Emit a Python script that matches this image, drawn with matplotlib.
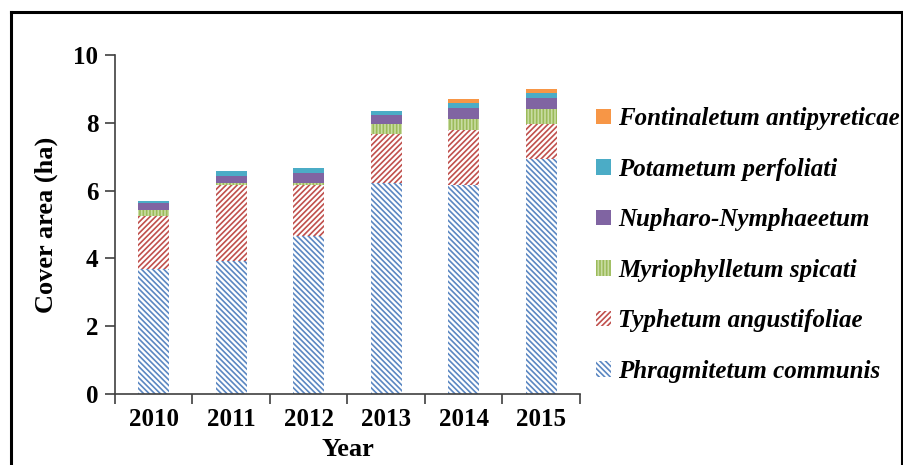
import matplotlib
matplotlib.use("Agg")
import matplotlib.pyplot as plt
import numpy as np
from matplotlib.lines import Line2D

years = ["2010", "2011", "2012", "2013", "2014", "2015"]
series_names = ["Phragmitetum communis", "Typhetum angustifoliae", "Myriophylletum spicati",
                "Nupharo-Nymphaeetum", "Potametum perfoliati", "Fontinaletum antipyreticae"]
phragmitetum = [3.68, 3.93, 4.66, 6.21, 6.17, 6.92]
typhetum = [1.57, 2.23, 1.50, 1.45, 1.62, 1.04]
myriophylletum = [0.18, 0.07, 0.07, 0.30, 0.31, 0.44]
nupharo = [0.21, 0.20, 0.28, 0.27, 0.33, 0.32]
potametum = [0.05, 0.16, 0.16, 0.13, 0.16, 0.15]
fontinaletum = [0.00, 0.00, 0.00, 0.00, 0.12, 0.14]

plt.rcParams['font.family'] = ['Liberation Serif', 'DejaVu Serif']
plt.rcParams['hatch.linewidth'] = 1.2

fig = plt.figure(figsize=(9.04, 4.65), dpi=100)
ax = fig.add_axes([115/904, 1-394/465, 465/904, 339/465])

styles = [
    dict(facecolor='white', edgecolor='#5B87C2', hatch='\\' * 6),
    dict(facecolor='white', edgecolor='#C0504D', hatch='/' * 6),
    dict(facecolor='#9BBB59', edgecolor='#C9DCA3', hatch='|' * 5),
    dict(facecolor='#8064A2', edgecolor='#8064A2', hatch=None),
    dict(facecolor='#4BACC6', edgecolor='#4BACC6', hatch=None),
    dict(facecolor='#F79646', edgecolor='#F79646', hatch=None),
]
data = [phragmitetum, typhetum, myriophylletum, nupharo, potametum, fontinaletum]
x = np.arange(len(years))
bottom = np.zeros(len(years))
handles = []
for name, vals, st in zip(series_names, data, styles):
    v = np.array(vals)
    bars = ax.bar(x, v, 0.4, bottom=bottom, linewidth=0, label=name, **st)
    handles.append(bars)
    bottom += v

ax.set_xlim(-0.5, 5.5)
ax.set_ylim(0, 10)
ax.set_yticks([0, 2, 4, 6, 8, 10])
ax.set_xticks(x)
ax.set_xticklabels(years)
ax.set_xticks(np.arange(-0.5, 6.0, 1.0), minor=True)
ax.tick_params(axis='x', which='major', length=0, pad=10, labelsize=18)
ax.tick_params(axis='x', which='minor', length=7, width=1.2, direction='out', color='#404040')
ax.tick_params(axis='y', length=7, width=1.2, direction='out', color='#404040', labelsize=18, pad=5)
for lab in ax.get_xticklabels() + ax.get_yticklabels():
    lab.set_fontweight('bold')
for s in ['top', 'right']:
    ax.spines[s].set_visible(False)
for s in ['left', 'bottom']:
    ax.spines[s].set_color('#404040')
    ax.spines[s].set_linewidth(1.2)

ax.set_ylabel("Cover area (ha)", fontsize=19, fontweight='bold', labelpad=11)
ax.set_xlabel("Year", fontsize=19, fontweight='bold', labelpad=5)

leg = fig.legend(handles[::-1], series_names[::-1], loc='center left',
                 bbox_to_anchor=(596/904, 1-245/465), bbox_transform=fig.transFigure,
                 frameon=False, borderpad=0, borderaxespad=0, labelspacing=1.1,
                 handlelength=0.6, handleheight=0.6, handletextpad=0.3,
                 prop=dict(family='Liberation Serif', weight='bold', style='italic', size=18))

# outer border
W, H = 904, 465
fig.add_artist(Line2D([10.5/W, 10.5/W], [0, 1-12.5/H], color='black', lw=2.2, transform=fig.transFigure))
fig.add_artist(Line2D([10.5/W, 903/W], [1-12.5/H, 1-12.5/H], color='black', lw=2.2, transform=fig.transFigure))
fig.add_artist(Line2D([902.5/W, 902.5/W], [0, 1-12.5/H], color='black', lw=2.2, transform=fig.transFigure))

fig.savefig("out.png", dpi=100)
